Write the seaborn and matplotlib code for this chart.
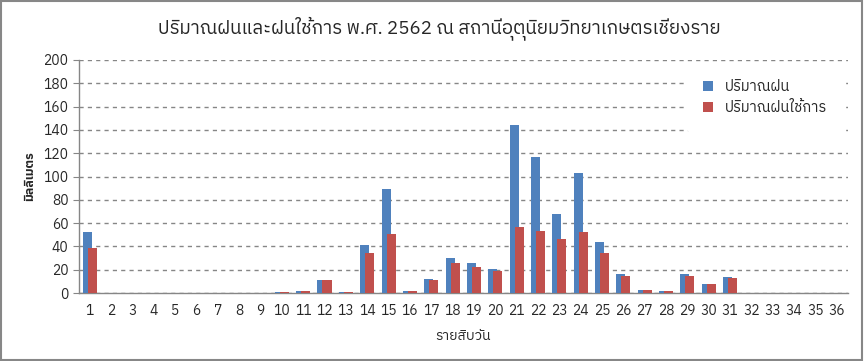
import matplotlib
matplotlib.use("Agg")
import matplotlib.pyplot as plt
from matplotlib import font_manager
from matplotlib.ft2font import FT2Font
from matplotlib.patches import Rectangle
import numpy as np
import pandas as pd
import seaborn as sns

# rainfall per dekad (10-day period), 2019, Chiang Rai agromet station
dekads = list(range(1, 37))
rain = [52, 0, 0, 0, 0, 0, 0, 0, 0,
        1, 2, 11, 1, 41, 89, 2, 12, 30, 26, 21, 144,
        117, 68, 103, 44, 16, 3, 2, 16, 8, 14,
        0, 0, 0, 0, 0]
eff_rain = [39, 0, 0, 0, 0, 0, 0, 0, 0,
            1, 2, 11, 1, 34, 51, 2, 11, 26, 22, 19, 57,
            53, 46, 52, 34, 15, 3, 2, 15, 8, 13,
            0, 0, 0, 0, 0]
series_names = ["ปริมาณฝน", "ปริมาณฝนใช้การ"]
title = "ปริมาณฝนและฝนใช้การ พ.ศ. 2562 ณ สถานีอุตุนิยมวิทยาเกษตรเชียงราย"
xlabel = "รายสิบวัน"
ylabel = "มิลลิเมตร"
colors = ["#4F81BD", "#C0504D"]


def find_thai_font():
    found = []
    for f in font_manager.fontManager.ttflist:
        try:
            if 0x0E1B in FT2Font(f.fname).get_charmap():
                found.append(f.name)
        except Exception:
            pass
    found = sorted(set(found), key=lambda n: (0 if "Sans" in n else 1, n))
    return found[0] if found else "DejaVu Sans"


sns.set_style("white")
thai = find_thai_font()
plt.rcParams["font.family"] = [thai, "DejaVu Sans"]

df = pd.DataFrame({
    "dekad": dekads * 2,
    "value": rain + eff_rain,
    "series": [series_names[0]] * len(dekads) + [series_names[1]] * len(dekads),
})

fig = plt.figure(figsize=(8.64, 3.61), dpi=100)
ax = fig.add_axes([0.0914, 0.188, 0.8896, 0.646])

sns.barplot(data=df, x="dekad", y="value", hue="series", palette=colors,
            width=0.47, gap=-0.8, saturation=1, linewidth=0, ax=ax, zorder=3)

ax.set_ylim(0, 200)
ax.set_yticks(np.arange(0, 201, 20))
ax.set_xlim(-0.5, 35.5)
ax.grid(axis="y", color="#868686", linestyle=(0, (3, 3)), linewidth=1, zorder=0)
ax.set_axisbelow(True)
for s in ["top", "right"]:
    ax.spines[s].set_visible(False)
for s in ["left", "bottom"]:
    ax.spines[s].set_color("#868686")
    ax.spines[s].set_linewidth(1)

ax.set_xticks(np.arange(-0.5, 36, 1), minor=True)
ax.tick_params(axis="x", which="major", length=0, pad=8, labelsize=10)
ax.tick_params(axis="x", which="minor", length=4, color="#868686", direction="out")
ax.tick_params(axis="y", length=4, color="#868686", direction="out", labelsize=10, left=True)

ax.set_xlabel(xlabel, fontsize=10, labelpad=8)
ax.set_ylabel(ylabel, fontsize=9, fontweight="bold", labelpad=5)
fig.suptitle(title, fontsize=13.5, x=0.509, y=0.955)

ax.legend(title=None, frameon=True, facecolor="white", edgecolor="white",
          loc="upper right", bbox_to_anchor=(1.0, 1.0), fontsize=10.5,
          handlelength=0.7, handleheight=0.7, handletextpad=0.8, labelspacing=0.45,
          borderpad=1.1, borderaxespad=0.3, framealpha=1)

fig.add_artist(Rectangle((0.001, 0.002), 0.997, 0.995, transform=fig.transFigure,
                         fill=False, edgecolor="#878787", linewidth=1.5))

fig.savefig("out.png", dpi=100)
